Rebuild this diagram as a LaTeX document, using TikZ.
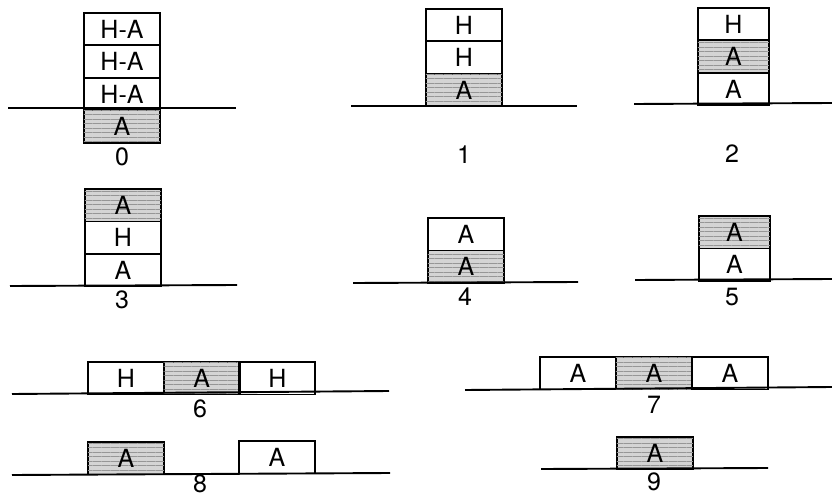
\documentclass[tikz,border=0pt]{standalone}
\usepackage{fontspec}
\setmainfont{TeX Gyre Heros}
\usetikzlibrary{patterns.meta}

\begin{document}
\begin{tikzpicture}[x=1pt, y=-1pt]
  % Colors
  \definecolor{shadecol}{RGB}{212,212,212}
  \definecolor{hatchcol}{RGB}{150,150,150}
  %
  \def\cw{76pt}
  \def\nw{71pt}
  \def\ch{32.5}
  %
  \tikzset{
    cell/.style={draw, line width=1.9pt, minimum width=\cw, minimum height=\ch pt, inner sep=0pt,
                 anchor=north west, font=\fontsize{25}{25}\selectfont},
    hcell/.style={cell, fill=shadecol,
                  postaction={pattern={Lines[angle=0, distance=4.5pt, line width=0.8pt]}, pattern color=hatchcol}},
    ground/.style={line width=1.9pt},
    tag/.style={inner sep=1pt, font=\fontsize{25}{25}\selectfont},
  }
  \useasboundingbox (0,0) rectangle (832,497);
  %
  %%% TOP ROW %%%
  % --- 0 ---
  \foreach \i/\txt/\sty in {0/H-A/cell, 1/H-A/cell, 2/H-A/cell, 3/A/hcell} {
    \node[\sty] (p0c\i) at (83, {12+\i*\ch}) {\txt};
  }
  \draw[ground] (8,108) -- (236,108);
  \node[tag] (p0) at (122,157) {0};
  %
  % --- 1 ---
  \foreach \i/\txt/\sty in {0/H/cell, 1/H/cell, 2/A/hcell} {
    \node[\sty] (p1c\i) at (425, {8+\i*\ch}) {\txt};
  }
  \draw[ground] (351,106) -- (577,106);
  \node[tag] (p1) at (464,155) {1};
  %
  % --- 2 ---
  \foreach \i/\txt/\sty in {0/H/cell, 1/A/hcell, 2/A/cell} {
    \node[\sty, minimum width=\nw] (p2c\i) at (697, {7+\i*\ch}) {\txt};
  }
  \draw[ground] (634,104) -- (832,103);
  \node[tag] (p2) at (732,154) {2};
  %
  %%% MIDDLE ROW %%%
  % --- 3 ---
  \foreach \i/\txt/\sty in {0/A/hcell, 1/H/cell, 2/A/cell} {
    \node[\sty] (p3c\i) at (84, {188+\i*\ch}) {\txt};
  }
  \draw[ground] (10,286) -- (237,285);
  \node[tag] (p3) at (122,300) {3};
  %
  % --- 4 ---
  \foreach \i/\txt/\sty in {0/A/cell, 1/A/hcell} {
    \node[\sty] (p4c\i) at (427, {217+\i*\ch}) {\txt};
  }
  \draw[ground] (353,283) -- (578,282);
  \node[tag] (p4) at (465,297) {4};
  %
  % --- 5 ---
  \foreach \i/\txt/\sty in {0/A/hcell, 1/A/cell} {
    \node[\sty, minimum width=\nw] (p5c\i) at (698, {215+\i*\ch}) {\txt};
  }
  \draw[ground] (635,280) -- (832,279);
  \node[tag] (p5) at (732,297) {5};
  %
  %%% BOTTOM ROWS %%%
  % --- 6 ---
  \foreach \i/\txt/\sty in {0/H/cell, 1/A/hcell, 2/H/cell} {
    \node[\sty] (p6c\i) at ({87+\i*75.7}, 361) {\txt};
  }
  \draw[ground] (12,394) -- (389,391);
  \node[tag] (p6) at (200,409) {6};
  %
  % --- 7 ---
  \foreach \i/\txt/\sty in {0/A/cell, 1/A/hcell, 2/A/cell} {
    \node[\sty] (p7c\i) at ({539+\i*76}, 356) {\txt};
  }
  \draw[ground] (465,390) -- (832,387);
  \node[tag] (p7) at (654,405) {7};
  %
  % --- 8 ---
  \node[hcell] (p8c0) at (87,441) {A};
  \node[cell] (p8c1) at (238,440) {A};
  \draw[ground] (12,475) -- (390,473);
  \node[tag] (p8) at (200,484) {8};
  %
  % --- 9 ---
  \node[hcell] (p9c0) at (616,436) {A};
  \draw[ground] (541,469) -- (768,468);
  \node[tag] (p9) at (654,482) {9};
\end{tikzpicture}
\end{document}
